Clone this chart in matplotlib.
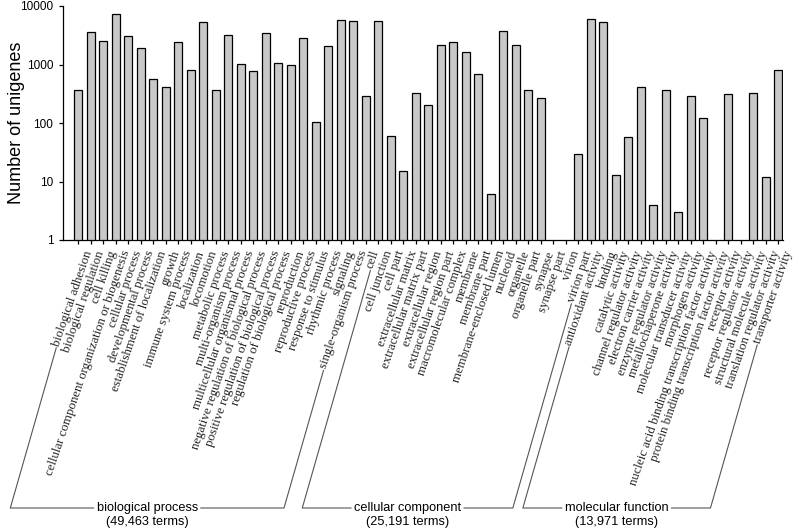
import numpy as np
import matplotlib
matplotlib.use("Agg")
import matplotlib.pyplot as plt
from matplotlib.lines import Line2D
from matplotlib.transforms import ScaledTranslation

# GO categories
bp_terms = ["biological adhesion", "biological regulation", "cell killing",
            "cellular component organization or biogenesis", "cellular process",
            "developmental process", "establishment of localization", "growth",
            "immune system process", "localization", "locomotion", "metabolic process",
            "multi-organism process", "multicellular organismal process",
            "negative regulation of biological process",
            "positive regulation of biological process",
            "regulation of biological process", "reproduction", "reproductive process",
            "response to stimulus", "rhythmic process", "signaling",
            "single-organism process"]
bp_values = [360, 3600, 2550, 7250, 3050, 1950, 560, 415, 2400, 800, 5300, 360,
             3200, 1030, 780, 3400, 1050, 980, 2830, 105, 2040, 5870, 5520]

cc_terms = ["cell", "cell junction", "cell part", "extracellular matrix",
            "extracellular matrix part", "extracellular region",
            "extracellular region part", "macromolecular complex", "membrane",
            "membrane part", "membrane-enclosed lumen", "nucleoid", "organelle",
            "organelle part", "synapse", "synapse part", "virion", "virion part"]
cc_values = [295, 5520, 59, 15, 323, 203, 2190, 2410, 1650, 680, 6, 3730, 2190,
             363, 272, 0, 0, 29]

mf_terms = ["antioxidant activity", "binding", "catalytic activity",
            "channel regulator activity", "electron carrier activity",
            "enzyme regulator activity", "metallochaperone activity",
            "molecular transducer activity", "morphogen activity",
            "nucleic acid binding transcription factor activity",
            "protein binding transcription factor activity", "receptor activity",
            "receptor regulator activity", "structural molecule activity",
            "translation regulator activity", "transporter activity"]
mf_values = [5900, 5370, 13, 57, 410, 4, 370, 3, 295, 123, 0, 315, 0, 330, 12, 812]

groups = [("biological process", "(49,463 terms)", len(bp_terms)),
          ("cellular component", "(25,191 terms)", len(cc_terms)),
          ("molecular function", "(13,971 terms)", len(mf_terms))]

yticks = [1, 10, 100, 1000, 10000]

terms = bp_terms + cc_terms + mf_terms
values = np.array(bp_values + cc_values + mf_values, dtype=float)
x = np.arange(len(terms))

W, H = 794, 532
fig = plt.figure(figsize=(W / 100, H / 100), dpi=100)
ax = fig.add_axes([63 / W, 1 - 240 / H, 720 / W, 234 / H])

mask = values > 0
ax.bar(x[mask], values[mask], width=0.64, color="#c8c8c8",
       edgecolor="black", linewidth=0.9, zorder=2)

ax.set_yscale("log")
ax.set_ylim(1, 10000)
ax.set_xlim(-1.2, len(terms) - 0.6)
ax.set_yticks(yticks)
ax.set_yticklabels([str(v) for v in yticks], fontsize=8.5, family="Liberation Sans")
ax.yaxis.set_minor_locator(matplotlib.ticker.NullLocator())
ax.set_xticks(x)
ax.set_xticklabels([])
ax.tick_params(axis="both", direction="out", length=3, width=0.9, color="black")
ax.tick_params(axis="y", pad=4)
for s in ["top", "right"]:
    ax.spines[s].set_visible(False)
for s in ["left", "bottom"]:
    ax.spines[s].set_linewidth(0.9)

ax.set_ylabel("Number of unigenes", fontsize=13, family="Liberation Sans")
ax.yaxis.set_label_coords(-0.053, 0.5)

# rotated category labels
rot = 71
fs = 9.3
off = ScaledTranslation(5 / 100, -9 / 100, fig.dpi_scale_trans)
texts = []
for i, t in enumerate(terms):
    tx = ax.text(i, 0, t, rotation=rot, rotation_mode="anchor", ha="right", va="top",
                 fontsize=fs, family="Liberation Serif", color="#222222",
                 transform=ax.get_xaxis_transform() + off)
    texts.append(tx)

fig.canvas.draw()
r = fig.canvas.get_renderer()


def start_point(tx):
    bb = tx.get_window_extent(r)
    h = fs * 100 / 72 * 1.1
    a = np.deg2rad(rot)
    sx = bb.x0 + 0.5 * h * np.sin(a) - 2.5 * np.cos(a)
    sy = bb.y0 + 0.5 * h * np.cos(a) - 2.5 * np.sin(a)
    return sx, sy


def pline(xs, ys):
    fig.add_artist(Line2D([v / W for v in xs], [v / H for v in ys],
                          transform=fig.transFigure, color="#555555", lw=0.8))


base_y = H - 508
slope = np.tan(np.deg2rad(74))
i0 = 0
for name, sub, n in groups:
    lx, ly = start_point(texts[i0])
    rx, ry = start_point(texts[i0 + n - 1])
    lbx = lx - (ly - base_y) / slope
    rbx = rx - (ry - base_y) / slope
    cx = (lbx + rbx) / 2
    t1 = fig.text(cx / W, base_y / H, name, ha="center", va="center",
                  fontsize=9.2, family="Liberation Sans")
    fig.text(cx / W, (H - 522) / H, sub, ha="center", va="center",
             fontsize=9.2, family="Liberation Sans")
    bb = t1.get_window_extent(r)
    pline([lx, lbx, bb.x0 - 3], [ly, base_y, base_y])
    pline([bb.x1 + 3, rbx, rx], [base_y, base_y, ry])
    i0 += n

fig.savefig("out.png", dpi=100)
